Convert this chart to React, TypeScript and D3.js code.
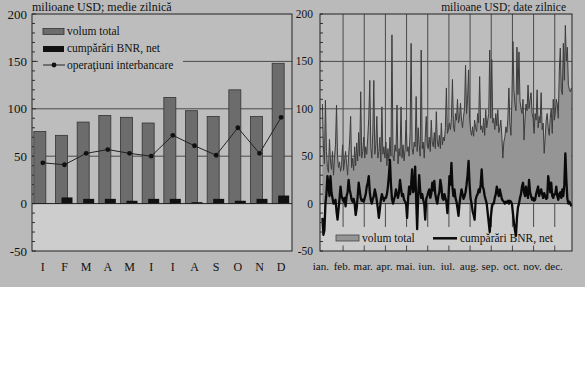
import React from 'react';
import * as d3 from 'd3';

// ---------- left chart: monthly averages ----------
const months = ['I', 'F', 'M', 'A', 'M', 'I', 'I', 'A', 'S', 'O', 'N', 'D'];
const volumTotal = [76, 72, 86, 93, 91, 85, 112, 98, 92, 120, 92, 148];
const cumparariBNR = [0.5, 6.5, 5, 5, 3, 5, 5, 1.5, 5, 3, 5, 8.5];
const operatiuniInterbancare = [43, 41, 53, 57, 53, 50, 72, 61, 51, 80, 53, 91];
const yTicks = [-50, 0, 50, 100, 150, 200];

// ---------- right chart: daily data ----------
const monthNames = ['ian.', 'feb.', 'mar.', 'apr.', 'mai.', 'iun.', 'iul.', 'aug.', 'sep.', 'oct.', 'nov.', 'dec.'];
const daysPerMonth = [21, 21, 21, 21, 21, 21, 21, 21, 21, 21, 21, 17];
const volumDaily = [
  105, 60, 42, 109, 55, 38, 33, 68, 45, 36, 55, 30, 48, 62, 104, 50, 38, 44, 34, 40, 62,
  35, 45, 55, 42, 30, 50, 66, 92, 38, 48, 35, 60, 40, 64, 45, 75, 50, 118, 48, 55, 70,
  48, 60, 52, 70, 90, 130, 60, 48, 75, 130, 52, 62, 92, 48, 55, 70, 44, 102, 52, 60, 48,
  65, 40, 58, 45, 70, 50, 178, 50, 45, 62, 55, 104, 42, 58, 50, 102, 48, 62, 45, 57, 88,
  55, 60, 50, 75, 169, 58, 52, 65, 60, 113, 55, 80, 62, 50, 162, 58, 65, 48, 70, 92, 62,
  58, 70, 55, 88, 64, 60, 75, 58, 97, 65, 60, 72, 58, 85, 62, 70, 66, 80, 122, 74, 78,
  85, 78, 90, 131, 82, 76, 95, 88, 110, 85, 90, 106, 88, 80, 92, 100, 146, 95, 110, 141, 90,
  78, 72, 81, 71, 88, 80, 76, 95, 85, 134, 78, 82, 75, 90, 72, 99, 80, 88, 95, 162, 90,
  152, 85, 90, 78, 95, 82, 99, 75, 80, 88, 72, 48, 65, 70, 81, 75, 90, 122, 85, 72, 110,
  171, 120, 105, 98, 165, 115, 160, 108, 100, 95, 110, 67, 90, 105, 98, 125, 100, 110, 117, 95, 90,
  74, 95, 88, 120, 80, 92, 85, 117, 78, 85, 53, 70, 88, 95, 80, 72, 90, 100, 74, 110, 88,
  95, 110, 105, 90, 140, 164, 120, 115, 169, 130, 188, 150, 165, 125, 120, 118, 122,
];
const bnrDaily = [
  -15, -33, -28, 0, 10, 29, 20, 8, 29, 12, 6, 0, 2, 4, -8, -17, -6, 5, 18, 8, 5,
  2, 6, -3, 8, 12, 25, 15, 10, 4, 2, 5, 0, -12, -5, 8, 22, 14, 6, 3, 4, 2,
  6, 10, 18, 22, 29, 12, 4, 0, 5, 8, 15, 10, 3, -5, -15, -6, 4, 10, 6, 3, 6,
  6, 10, 18, 30, 46, 20, 5, 0, 4, 8, 15, 10, 6, 12, 25, 16, 8, 10, 4, 2, 0,
  -15, 5, 18, 10, 20, 36, 12, 15, 39, 5, -27, 8, 30, 14, 6, 10, 4, 0, -17, 5, 8,
  12, 15, 6, 10, 22, 14, 24, 10, 4, 0, 8, 12, 25, 18, 6, 4, 10, 6, 2, -10, 5,
  29, 20, 43, 18, 8, 15, 6, 2, -5, -13, 0, 8, 15, 10, 5, 8, 12, 20, 30, 45, 20,
  5, 0, -8, -12, -17, 4, 8, 10, 15, 12, 20, 36, 18, 15, 8, 4, 0, -10, -20, -30, -15,
  -5, 0, 0, 6, 10, 18, 12, 8, 15, 10, 5, 3, 2, 0, 2, 1, 3, 0, 3, 2, 0,
  -10, -20, -28, -34, -15, -4, 0, 6, 10, 18, 22, 12, 8, 18, 10, 6, 25, 12, 8, 4, 6,
  3, 4, 10, 14, 18, 8, 12, 15, 10, 6, 11, 8, 5, 6, 29, 20, 12, 22, 8, 6, 10,
  10, 18, 8, 4, 10, 12, 6, 15, 8, 20, 53, 25, 5, 0, 2, 0, -3,
];

const FONT = '"Liberation Serif", "Times New Roman", serif';
const BG = '#bababa';
const PLOT_HI = '#bdbdbd';
const PLOT_LO = '#cdcdcd';
const GRID = '#4a4a4a';

export default function App() {
  const W = 585, H = 384;
  const top = 14, bottom = 251;

  // left chart scales
  const lx0 = 32, lx1 = 292;
  const yL = d3.scaleLinear().domain([-50, 200]).range([bottom, top]);
  const xL = d3.scaleBand<number>().domain(months.map((_, i) => i)).range([lx0, lx1]).padding(0);
  const cx = (i: number) => (xL(i) as number) + xL.bandwidth() / 2;
  const linePath = d3.line<number>().x((_, i) => cx(i)).y(d => yL(d))(operatiuniInterbancare) || '';

  // right chart scales
  const rx0 = 320, rx1 = 572;
  const yR = d3.scaleLinear().domain([-50, 200]).range([bottom, top]);
  const nDays = volumDaily.length;
  const xR = d3.scaleLinear().domain([-0.5, nDays - 0.5]).range([321.9, 571.9]);
  const areaPath = d3.area<number>().x((_, i) => xR(i)).y0(yR(0)).y1(d => yR(d))(volumDaily) || '';
  const volLine = d3.line<number>().x((_, i) => xR(i)).y(d => yR(d))(volumDaily) || '';
  const bnrLine = d3.line<number>().x((_, i) => xR(i)).y(d => yR(d))(bnrDaily) || '';
  const starts: number[] = [];
  let acc = 0;
  daysPerMonth.forEach(n => { starts.push(acc); acc += n; });
  const boundaries = starts.slice(1).map(s => xR(s - 0.5));

  const minor = d3.range(-50, 201, 10);

  return (
    <svg width={W} height={H} style={{ position: 'absolute', left: 0, top: 0, background: '#fff' }}
      fontFamily={FONT}>
      <rect x={0} y={0} width={W} height={287} fill={BG} />

      {/* ---------------- LEFT CHART ---------------- */}
      <rect x={lx0} y={top} width={lx1 - lx0} height={yL(0) - top} fill={PLOT_HI} />
      <rect x={lx0} y={yL(0)} width={lx1 - lx0} height={bottom - yL(0)} fill={PLOT_LO} />
      {[50, 100, 150].map(v => (
        <line key={v} x1={lx0} x2={lx1} y1={yL(v)} y2={yL(v)} stroke={GRID} strokeWidth={1} />
      ))}
      {/* legend background */}
      <rect x={38} y={22} width={145} height={50} fill={PLOT_HI} />
      {minor.map(v => (
        <line key={v} x1={lx0} x2={lx0 + (v % 50 === 0 ? 4 : 3)} y1={yL(v)} y2={yL(v)} stroke="#333" strokeWidth={1} />
      ))}
      {volumTotal.map((v, i) => (
        <rect key={'g' + i} x={cx(i) - 9} y={yL(v)} width={12} height={yL(0) - yL(v)}
          fill="#6c6c6c" stroke="#333" strokeWidth={0.8} />
      ))}
      {cumparariBNR.map((v, i) => (
        <rect key={'b' + i} x={cx(i) - 3} y={yL(v)} width={11} height={yL(0) - yL(v)} fill="#111" />
      ))}
      <line x1={lx0} x2={lx1} y1={yL(0)} y2={yL(0)} stroke="#222" strokeWidth={1} />
      <path d={linePath} fill="none" stroke="#222" strokeWidth={1} />
      {operatiuniInterbancare.map((v, i) => (
        <circle key={'c' + i} cx={cx(i)} cy={yL(v)} r={2.4} fill="#111" />
      ))}
      <rect x={lx0} y={top} width={lx1 - lx0} height={bottom - top} fill="none" stroke="#222" strokeWidth={1} />
      {yTicks.map(v => (
        <text key={v} x={27} y={yL(v) + 4.5} fontSize={13} textAnchor="end" fill="#111">{v}</text>
      ))}
      {months.map((m, i) => (
        <text key={'m' + i} x={cx(i)} y={271} fontSize={12} textAnchor="middle" fill="#111">{m}</text>
      ))}
      <text x={32} y={10.5} fontSize={12} fill="#111">milioane USD; medie zilnică</text>
      {/* legend */}
      <rect x={43} y={28.5} width={21} height={6} fill="#6c6c6c" stroke="#333" strokeWidth={0.8} />
      <text x={67} y={35} fontSize={11.5} fill="#111">volum total</text>
      <rect x={43} y={46} width={21} height={6} fill="#111" />
      <text x={67} y={51.5} fontSize={11.5} fill="#111">cumpărări BNR, net</text>
      <line x1={43} x2={65} y1={65} y2={65} stroke="#222" strokeWidth={1} />
      <circle cx={54} cy={65} r={2.4} fill="#111" />
      <text x={67} y={68.5} fontSize={11.5} fill="#111">operaţiuni interbancare</text>

      {/* ---------------- RIGHT CHART ---------------- */}
      <rect x={rx0} y={top} width={rx1 - rx0} height={yR(0) - top} fill={PLOT_HI} />
      <rect x={rx0} y={yR(0)} width={rx1 - rx0} height={bottom - yR(0)} fill={PLOT_LO} />
      {boundaries.map((bx, i) => (
        <line key={'v' + i} x1={bx} x2={bx} y1={top} y2={bottom} stroke={GRID} strokeWidth={1} />
      ))}
      {[50, 100, 150].map(v => (
        <line key={'h' + v} x1={rx0} x2={rx1} y1={yR(v)} y2={yR(v)} stroke={GRID} strokeWidth={1} />
      ))}
      <rect x={330} y={227} width={230} height={18.5} fill={PLOT_LO} />
      <path d={areaPath} fill="#959595" />
      <path d={volLine} fill="none" stroke="#3c3c3c" strokeWidth={1} />
      <line x1={rx0} x2={rx1} y1={yR(0)} y2={yR(0)} stroke="#333" strokeWidth={1} />
      <path d={bnrLine} fill="none" stroke="#0a0a0a" strokeWidth={2.3} strokeLinejoin="round" />
      {minor.map(v => (
        <line key={'rm' + v} x1={rx0} x2={rx0 + 3} y1={yR(v)} y2={yR(v)} stroke="#333" strokeWidth={1} />
      ))}
      <rect x={rx0} y={top} width={rx1 - rx0} height={bottom - top} fill="none" stroke="#222" strokeWidth={1} />
      {yTicks.map(v => (
        <text key={'ry' + v} x={313} y={yR(v) + 4} fontSize={11.5} textAnchor="end" fill="#111">{v}</text>
      ))}
      {monthNames.map((m, i) => (
        <text key={'rn' + i} x={xR(starts[i] - 0.5) - 1} y={270} fontSize={11} textAnchor="middle" fill="#111">{m}</text>
      ))}
      <text x={566} y={11} fontSize={11.5} textAnchor="end" fill="#111">milioane USD; date zilnice</text>
      {/* legend */}
      <rect x={336} y={235} width={23} height={6} fill="#959595" stroke="#444" strokeWidth={0.8} />
      <text x={362} y={242} fontSize={11.5} fill="#111">volum total</text>
      <line x1={433} x2={457} y1={238.3} y2={238.3} stroke="#0a0a0a" strokeWidth={2.5} />
      <text x={460} y={242} fontSize={11.5} fill="#111">cumpărări BNR, net</text>
    </svg>
  );
}
